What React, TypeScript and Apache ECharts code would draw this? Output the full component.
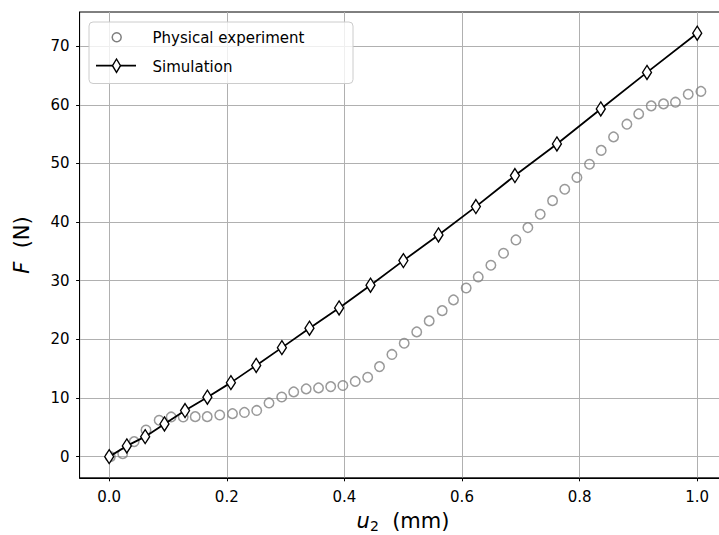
import React, { useEffect, useRef } from "react";
import * as echarts from "echarts";

const physX = [0.002, 0.023, 0.0425, 0.0626, 0.085, 0.1054, 0.1259, 0.1463, 0.1667, 0.188, 0.2097, 0.23, 0.2509, 0.2718, 0.2934, 0.3138, 0.335, 0.356, 0.3767, 0.3974, 0.4184, 0.4396, 0.4597, 0.4808, 0.5017, 0.523, 0.5442, 0.5663, 0.5855, 0.6071, 0.6276, 0.6491, 0.6706, 0.6917, 0.712, 0.733, 0.754, 0.7747, 0.7954, 0.8168, 0.8367, 0.8577, 0.8804, 0.9005, 0.9218, 0.9427, 0.963, 0.9847, 1.0063];
const physF = [0.0, 0.51, 2.56, 4.55, 6.2, 6.77, 6.77, 6.82, 6.82, 7.11, 7.33, 7.54, 7.88, 9.16, 10.18, 11.04, 11.55, 11.72, 11.94, 12.14, 12.83, 13.54, 15.35, 17.43, 19.34, 21.27, 23.15, 24.9, 26.73, 28.77, 30.65, 32.65, 34.69, 36.96, 39.06, 41.34, 43.66, 45.61, 47.62, 49.87, 52.23, 54.53, 56.7, 58.45, 59.82, 60.16, 60.45, 61.81, 62.29];

const simX = [0, 0.03, 0.0612, 0.094, 0.129, 0.167, 0.207, 0.25, 0.2937, 0.3406, 0.391, 0.4444, 0.5003, 0.56, 0.6236, 0.69, 0.7614, 0.836, 0.9146, 1.0];
const simF = [0, 1.83, 3.41, 5.58, 7.85, 10.13, 12.62, 15.56, 18.59, 21.9, 25.36, 29.23, 33.43, 37.81, 42.64, 47.93, 53.33, 59.3, 65.53, 72.22];

const xTicks = [0, 0.2, 0.4, 0.6, 0.8, 1.0];
const yTicks = [0, 10, 20, 30, 40, 50, 60, 70];

const legendNames = ["Physical experiment", "Simulation"];

const FONT = "DejaVu Sans";

export default function App() {
  const ref = useRef<HTMLDivElement>(null);
  useEffect(() => {
    if (!ref.current) return;
    const chart = echarts.init(ref.current, null, { renderer: "svg" });
    const diamond = "path://M5,0 L10,7.5 L5,15 L0,7.5 Z";
    chart.setOption({
      animation: false,
      backgroundColor: "#ffffff",
      grid: {
        left: 79.6,
        top: 12,
        width: 650.9,
        height: 465.8,
        show: true,
        borderColor: "#000000",
        borderWidth: 1,
        backgroundColor: "transparent",
        containLabel: false,
        outerBoundsMode: "none",
      },
      xAxis: {
        type: "value",
        min: -0.0503,
        max: 1.0566,
        axisLine: { show: true, onZero: false, lineStyle: { color: "#000", width: 1 } },
        axisTick: { show: true, length: 3.5, lineStyle: { color: "#000", width: 1 }, customValues: xTicks },
        axisLabel: {
          customValues: xTicks,
          margin: 12,
          color: "#000",
          fontFamily: FONT,
          fontSize: 15,
          formatter: (v: number) => v.toFixed(1),
        },
        splitLine: { show: true, lineStyle: { color: "#b0b0b0", width: 1 } },
      },
      yAxis: {
        type: "value",
        min: -3.611,
        max: 75.83,
        axisLine: { show: true, onZero: false, lineStyle: { color: "#000", width: 1 } },
        axisTick: { show: true, length: 3.5, lineStyle: { color: "#000", width: 1 }, customValues: yTicks },
        axisLabel: {
          customValues: yTicks,
          margin: 10,
          color: "#000",
          fontFamily: FONT,
          fontSize: 15,
        },
        splitLine: { show: true, lineStyle: { color: "#b0b0b0", width: 1 } },
      },
      series: [
        {
          name: legendNames[0],
          type: "scatter",
          data: physX.map((x, i) => [x, physF[i]]),
          symbol: "circle",
          symbolSize: 9.5,
          itemStyle: { color: "rgba(0,0,0,0)", borderColor: "#7f7f7f", borderWidth: 1.5 },
          z: 2,
        },
        {
          name: legendNames[1],
          type: "line",
          data: simX.map((x, i) => [x, simF[i]]),
          symbol: diamond,
          symbolSize: [9, 14],
          showAllSymbol: true,
          lineStyle: { color: "#000", width: 1.8 },
          itemStyle: { color: "#ffffff", borderColor: "#000", borderWidth: 1.4 },
          z: 3,
        },
      ],
      graphic: [
        {
          type: "rect",
          shape: { x: 89, y: 22, width: 264, height: 61.5, r: 4 },
          style: { fill: "rgba(255,255,255,0.8)", stroke: "#cccccc", lineWidth: 1 },
          z: 10,
        },
        {
          type: "circle",
          shape: { cx: 116.7, cy: 37.3, r: 4.5 },
          style: { fill: "none", stroke: "#7f7f7f", lineWidth: 1.5 },
          z: 11,
        },
        {
          type: "line",
          shape: { x1: 96, y1: 65.7, x2: 136, y2: 65.7 },
          style: { stroke: "#000", lineWidth: 1.8 },
          z: 11,
        },
        {
          type: "polygon",
          shape: { points: [[116.5, 59], [120.5, 65.7], [116.5, 72.4], [112.5, 65.7]] },
          style: { fill: "#fff", stroke: "#000", lineWidth: 1.4 },
          z: 12,
        },
        {
          type: "text",
          x: 152.5,
          y: 38,
          style: { text: legendNames[0], fontFamily: FONT, fontSize: 15, fill: "#000", verticalAlign: "middle", align: "left" },
          z: 12,
        },
        {
          type: "text",
          x: 152.5,
          y: 66.5,
          style: { text: legendNames[1], fontFamily: FONT, fontSize: 15, fill: "#000", verticalAlign: "middle", align: "left" },
          z: 12,
        },
        {
          type: "text",
          x: 403,
          y: 521,
          style: {
            text: "{i|u}{s|2}{n|  (mm)}",
            align: "center",
            verticalAlign: "middle",
            rich: {
              i: { fontFamily: FONT, fontStyle: "italic", fontSize: 21, fill: "#000" },
              s: { fontFamily: FONT, fontSize: 14, fill: "#000", padding: [9, 0, 0, 0] },
              n: { fontFamily: FONT, fontSize: 21, fill: "#000" },
            },
          },
          z: 12,
        },
        {
          type: "text",
          x: 22,
          y: 245,
          rotation: Math.PI / 2,
          style: {
            text: "{i|F}{n|  (N)}",
            align: "center",
            verticalAlign: "middle",
            rich: {
              i: { fontFamily: FONT, fontStyle: "italic", fontSize: 21, fill: "#000" },
              n: { fontFamily: FONT, fontSize: 21, fill: "#000" },
            },
          },
          z: 12,
        },
      ],
    });
    return () => chart.dispose();
  }, []);
  return (
    <div
      ref={ref}
      style={{ position: "fixed", left: 0, top: 0, width: 719, height: 535, background: "#fff" }}
    />
  );
}
